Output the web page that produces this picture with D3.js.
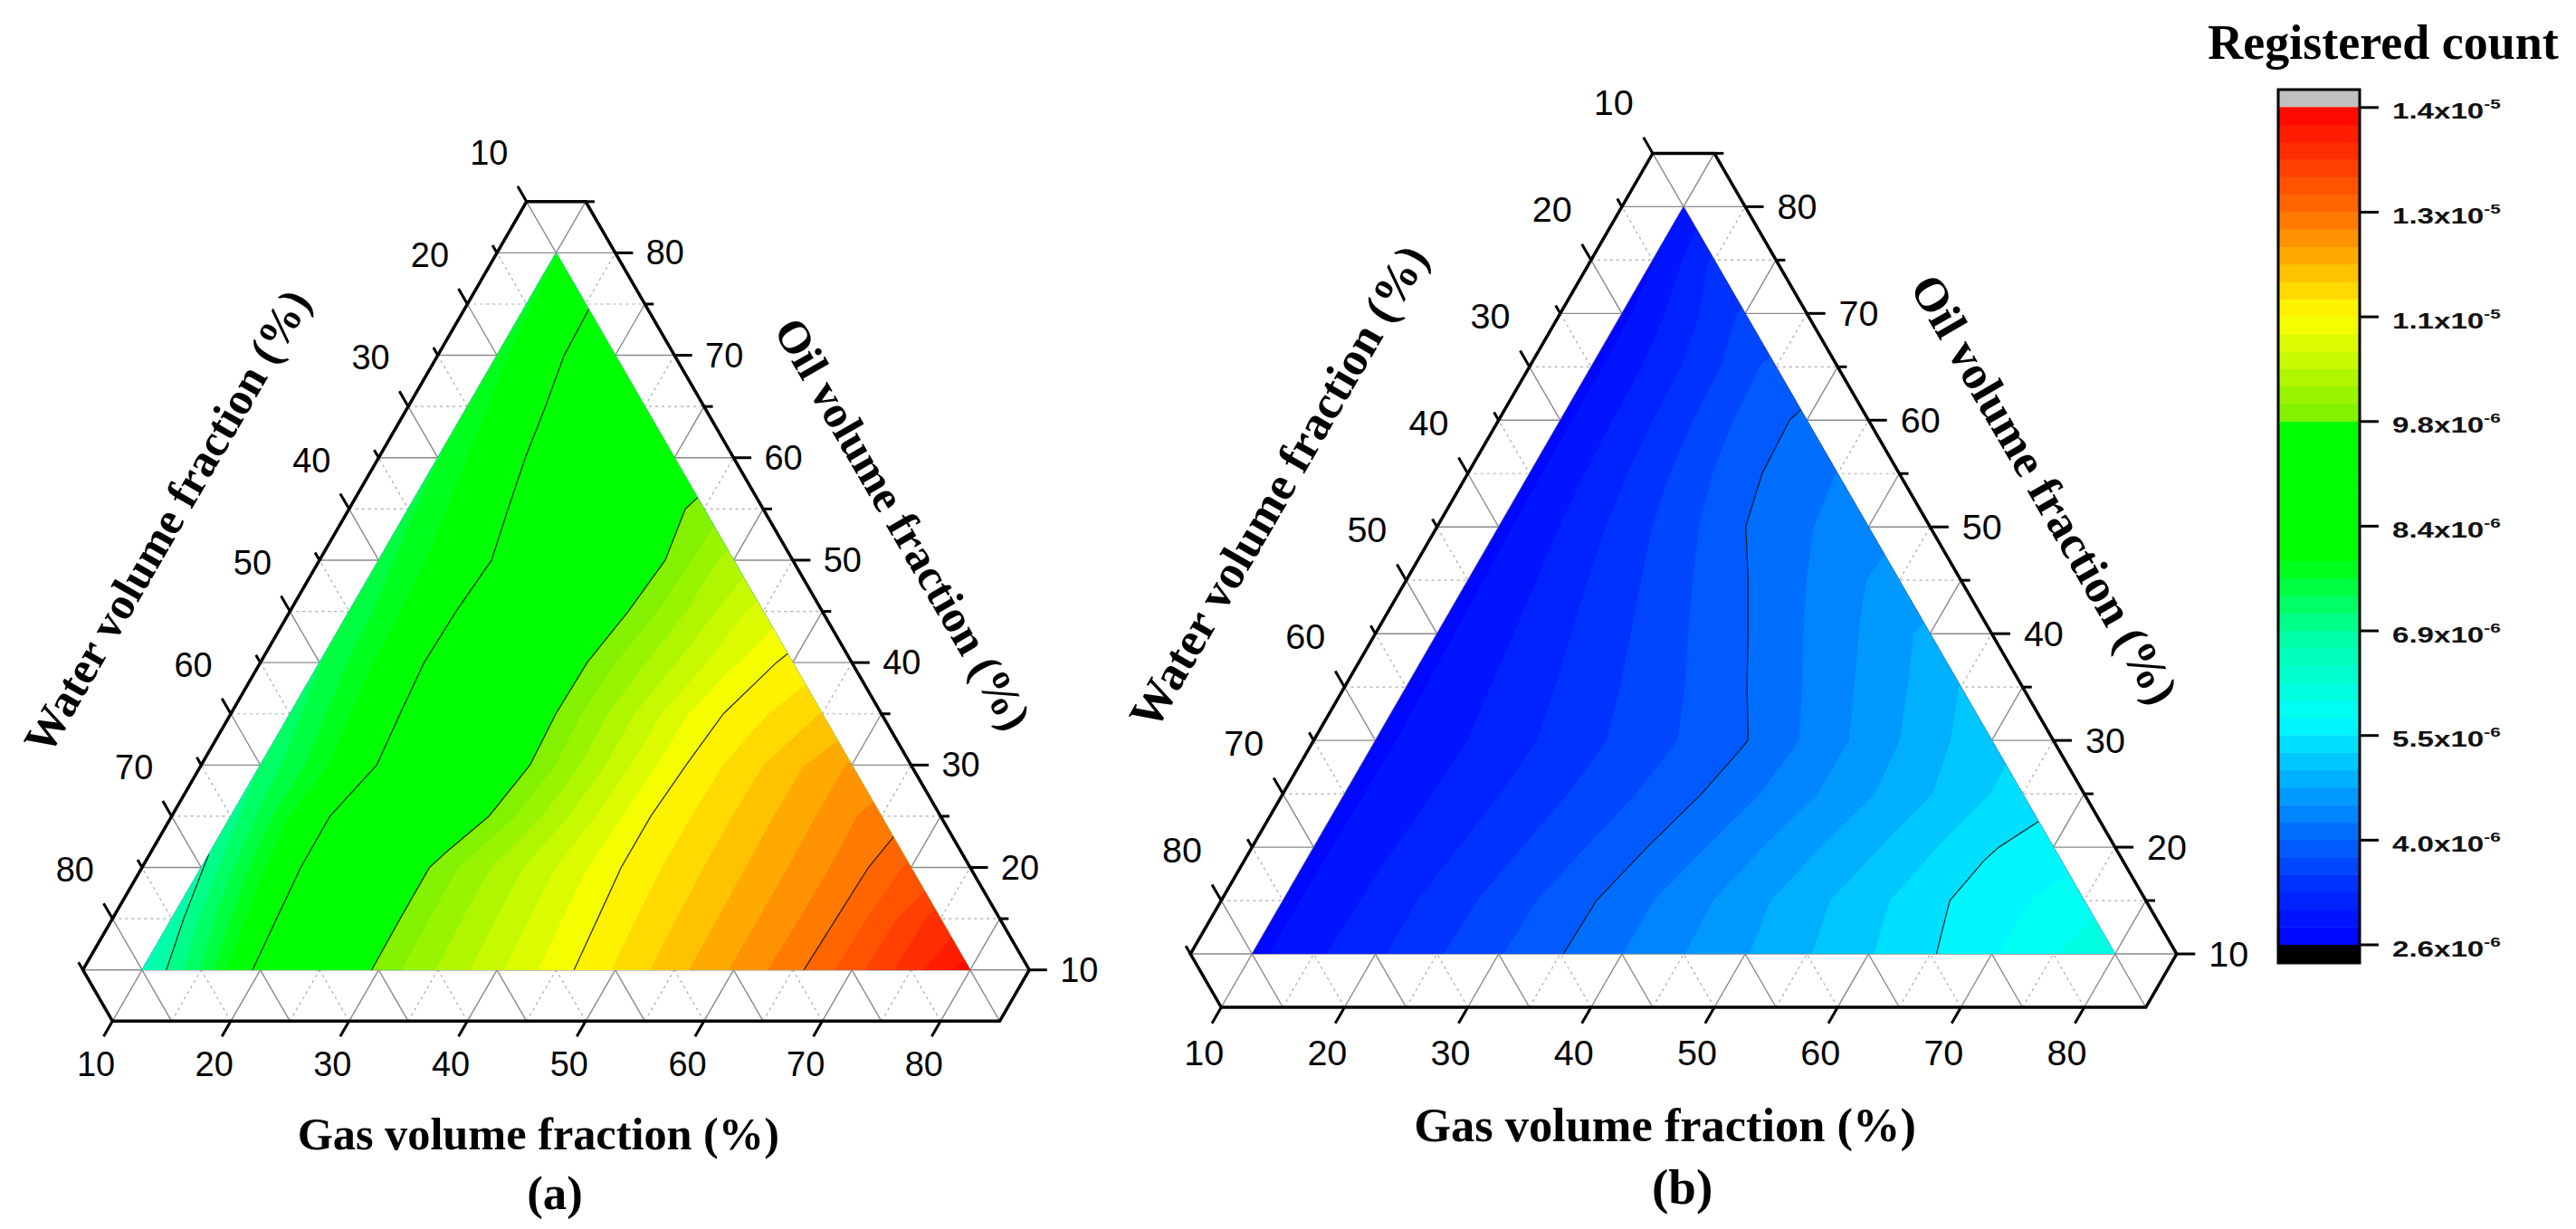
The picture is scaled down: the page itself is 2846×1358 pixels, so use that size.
<!DOCTYPE html>
<html>
<head>
<meta charset="utf-8">
<script src="https://cdn.jsdelivr.net/npm/d3@7"></script>
<style>
body { margin: 0; background: #fff; overflow: hidden; }
svg { display: block; }
.tick-label { font-family: "Liberation Sans", Arial, sans-serif; fill: #000; }
.title { font-family: "Liberation Serif", "Times New Roman", serif; font-weight: bold; fill: #000; }
.cb-label { font-family: "Liberation Sans", Arial, sans-serif; font-weight: bold; font-size: 24px; fill: #111; }
</style>
</head>
<body>
<svg id="chart" width="2846" height="1358"></svg>
<script>
// composition grid in %, water = 100 - gas - oil
var gasLevels = [10, 15, 20, 25, 30, 35, 40, 45, 50, 55, 60, 65, 70, 75, 80];
var oilLevels = [10, 15, 20, 25, 30, 35, 40, 45, 50, 55, 60, 65, 70, 75, 80];

// registered count (x10^-6), one row per oil level, columns gas = 10 .. 90-oil
var countA = [
  [6.60, 7.42, 8.54, 9.26, 9.92, 10.34, 10.76, 11.18, 11.56, 11.93, 12.29, 12.66, 13.12, 13.61, 14.10],
  [6.75, 7.67, 8.60, 9.29, 9.93, 10.36, 10.79, 11.22, 11.59, 11.94, 12.29, 12.64, 13.10, 13.60],
  [6.90, 7.83, 8.65, 9.31, 9.93, 10.37, 10.81, 11.26, 11.61, 11.95, 12.29, 12.63, 13.05],
  [7.05, 7.91, 8.62, 9.14, 9.65, 10.18, 10.72, 11.26, 11.61, 11.96, 12.30, 12.65],
  [7.20, 7.81, 8.41, 8.97, 9.53, 10.09, 10.66, 11.22, 11.60, 11.95, 12.30],
  [7.30, 7.89, 8.47, 9.02, 9.57, 10.12, 10.66, 11.19, 11.51, 11.79],
  [7.40, 7.96, 8.52, 9.05, 9.58, 10.08, 10.55, 11.02, 11.40],
  [7.45, 7.97, 8.49, 8.99, 9.49, 9.98, 10.47, 10.95],
  [7.55, 7.99, 8.43, 8.92, 9.42, 9.92, 10.47],
  [7.60, 8.06, 8.54, 9.02, 9.50, 10.00],
  [7.65, 8.16, 8.64, 9.10, 9.57],
  [7.72, 8.24, 8.71, 9.17],
  [7.80, 8.33, 8.77],
  [7.85, 8.37],
  [7.90]
];

var countB = [
  [2.75, 3.01, 3.26, 3.52, 3.77, 4.02, 4.27, 4.51, 4.74, 4.98, 5.22, 5.46, 5.70, 5.95, 6.20],
  [2.75, 3.00, 3.26, 3.51, 3.76, 4.01, 4.27, 4.52, 4.78, 5.03, 5.28, 5.53, 5.70, 5.90],
  [2.75, 2.99, 3.22, 3.46, 3.69, 3.93, 4.18, 4.44, 4.70, 4.95, 5.21, 5.47, 5.60],
  [2.75, 2.97, 3.19, 3.41, 3.63, 3.85, 4.08, 4.34, 4.60, 4.86, 5.12, 5.38],
  [2.75, 2.96, 3.17, 3.39, 3.60, 3.81, 4.02, 4.31, 4.61, 4.90, 5.20],
  [2.75, 2.98, 3.21, 3.44, 3.67, 3.90, 4.15, 4.44, 4.72, 5.01],
  [2.75, 3.00, 3.26, 3.51, 3.77, 4.02, 4.29, 4.56, 4.83],
  [2.75, 3.03, 3.32, 3.60, 3.89, 4.15, 4.40, 4.65],
  [2.75, 3.07, 3.39, 3.71, 4.03, 4.25, 4.46],
  [2.75, 3.10, 3.45, 3.80, 4.10, 4.28],
  [2.75, 3.12, 3.49, 3.86, 4.10],
  [2.75, 3.13, 3.51, 3.89],
  [2.75, 3.20, 3.60],
  [2.80, 3.35],
  [3.00]
];

// axis ticks
var majorTicks = [10, 20, 30, 40, 50, 60, 70, 80];
var minorTicks = [15, 25, 35, 45, 55, 65, 75, 85];

// colour scale (x10^-6)
var countMin = 2.58, countMax = 14.2, nLevels = 48;
var colorStops = [2.58, 3.3, 4.03, 4.8, 5.7, 6.9, 7.7, 8.0, 9.84, 9.85, 11.29, 12.75, 14.2];
var colorValues = ["#0000ff", "#0028ff", "#0064ff", "#00a8ff", "#00ffff", "#00ffa0", "#00ff28", "#00ff00",
                   "#00ff00", "#78f000", "#ffff00", "#ff6e00", "#ff0000"];
var cbMantissa = ["2.6", "4.0", "5.5", "6.9", "8.4", "9.8", "1.1", "1.3", "1.4"];
var cbExponent = ["-6", "-6", "-6", "-6", "-6", "-6", "-5", "-5", "-5"];

var svg = d3.select("#chart");
var color = d3.scaleLinear().domain(colorStops).range(colorValues);
var step = (countMax - countMin) / nLevels;
var levels = d3.range(nLevels).map(function(i) { return countMin + i * step; });
var majorLevels = d3.range(9).map(function(i) { return countMin + i * 6 * step; });

var panels = [
  {name: "(a)", x0: -39.1, y0: 1184.9, k: 13.07, values: countA},
  {name: "(b)", x0: 1179, y0: 1172, k: 13.62, values: countB}
];

// padded rectangular grid over gas 5..85, oil 5..85
function buildGrid(rows) {
  var n = 17;
  var grid = new Array(n * n).fill(null);
  rows.forEach(function(row, j) {
    row.forEach(function(v, i) { grid[(j + 1) * n + (i + 1)] = v; });
  });
  var missing = true;
  while (missing) {
    missing = false;
    var next = grid.slice();
    for (var y = 0; y < n; y++) {
      for (var x = 0; x < n; x++) {
        if (grid[y * n + x] !== null) continue;
        var s = 0, c = 0;
        [[1, 0], [-1, 0], [0, 1], [0, -1]].forEach(function(d) {
          var xx = x + d[0], yy = y + d[1];
          if (xx < 0 || yy < 0 || xx >= n || yy >= n) return;
          var v = grid[yy * n + xx];
          if (v !== null) { s += v; c++; }
        });
        if (c) next[y * n + x] = s / c; else missing = true;
      }
    }
    grid = next;
  }
  return grid;
}

panels.forEach(function(p, pi) {
  var k = p.k, h = k * Math.sqrt(3) / 2;
  var xScale = d3.scaleLinear().domain([0, 100]).range([p.x0, p.x0 + 100 * k]);
  var yScale = d3.scaleLinear().domain([0, 100]).range([p.y0, p.y0 - 100 * h]);
  function pt(gas, oil) { return [xScale(gas) + (xScale(oil) - xScale(0)) / 2, yScale(oil)]; }
  var line = d3.line().x(function(d) { return pt(d[0], d[1])[0]; }).y(function(d) { return pt(d[0], d[1])[1]; });

  var g = svg.append("g");

  // grid lines
  function gridSegs(v) {
    return [[[5, v], [95 - v, v]], [[v, 5], [v, 95 - v]], [[95 - v, 5], [5, 95 - v]]];
  }
  minorTicks.filter(function(v) { return v < 80; }).forEach(function(v) {
    g.selectAll(null).data(gridSegs(v)).enter().append("path")
      .attr("d", line).attr("fill", "none").attr("stroke", "#aaa")
      .attr("stroke-width", 1.2).attr("stroke-dasharray", "3,4");
  });
  majorTicks.forEach(function(v) {
    g.selectAll(null).data(gridSegs(v)).enter().append("path")
      .attr("d", line).attr("fill", "none").attr("stroke", "#8a8a8a").attr("stroke-width", 1.4);
  });

  // contour fill clipped to data triangle
  var clipId = "clip" + pi;
  svg.append("clipPath").attr("id", clipId).append("path")
    .attr("d", line([[10, 10], [80, 10], [10, 80]]) + "Z");
  var grid = buildGrid(p.values);
  var contours = d3.contours().size([17, 17]).thresholds(levels)(grid);
  var proj = d3.geoTransform({point: function(x, y) {
    var q = pt(5 + (x - 0.5) * 5, 5 + (y - 0.5) * 5);
    this.stream.point(q[0], q[1]);
  }});
  var path = d3.geoPath(proj);
  var cg = g.append("g").attr("clip-path", "url(#" + clipId + ")");
  cg.selectAll(".band").data(contours).enter().append("path")
    .attr("class", "band")
    .attr("d", path)
    .attr("fill", function(d) { return color(d.value + step / 2); })
    .attr("stroke", function(d) { return color(d.value + step / 2); })
    .attr("stroke-width", 0.6);
  var lineContours = d3.contours().size([17, 17]).thresholds(majorLevels.slice(1, 8))(grid);
  cg.selectAll(".iso").data(lineContours).enter().append("path")
    .attr("class", "iso")
    .attr("d", path)
    .attr("fill", "none")
    .attr("stroke", "#111")
    .attr("stroke-opacity", 0.85)
    .attr("stroke-width", 1.3);

  // frame
  g.append("path")
    .attr("d", line([[5, 10], [5, 85], [10, 85], [85, 10], [85, 5], [10, 5]]) + "Z")
    .attr("fill", "none").attr("stroke", "#000").attr("stroke-width", 3.5)
    .attr("stroke-linejoin", "miter");

  // ticks: gas (bottom), water (left), oil (right)
  var axes = [
    {base: function(v) { return pt(v, 5); }, dir: [-0.5, 0.866], minor: false},
    {base: function(v) { return pt(5, 95 - v); }, dir: [-0.5, -0.866], minor: true},
    {base: function(v) { return pt(95 - v, v); }, dir: [1, 0], minor: true}
  ];
  axes.forEach(function(ax) {
    var tickSet = majorTicks.map(function(v) { return {v: v, len: 1.5 * k}; });
    if (ax.minor) tickSet = tickSet.concat(minorTicks.map(function(v) { return {v: v, len: 0.75 * k}; }));
    g.selectAll(null).data(tickSet).enter().append("line")
      .attr("x1", function(d) { return ax.base(d.v)[0]; })
      .attr("y1", function(d) { return ax.base(d.v)[1]; })
      .attr("x2", function(d) { return ax.base(d.v)[0] + ax.dir[0] * d.len; })
      .attr("y2", function(d) { return ax.base(d.v)[1] + ax.dir[1] * d.len; })
      .attr("stroke", "#000").attr("stroke-width", 3);
  });

  var fs = 2.9 * k;
  g.selectAll(null).data(majorTicks).enter().append("text")
    .attr("class", "tick-label").style("font-size", fs + "px")
    .attr("text-anchor", "middle").attr("dominant-baseline", "central")
    .attr("x", function(v) { return pt(v, 5)[0] - 1.4 * k; })
    .attr("y", function(v) { return pt(v, 5)[1] + 3.67 * k; })
    .text(function(v) { return v; });
  g.selectAll(null).data(majorTicks).enter().append("text")
    .attr("class", "tick-label").style("font-size", fs + "px")
    .attr("text-anchor", "middle").attr("dominant-baseline", "central")
    .attr("x", function(v) { return pt(5, 95 - v)[0] - 3.17 * k; })
    .attr("y", function(v) { return pt(5, 95 - v)[1] - 4.12 * k; })
    .text(function(v) { return v; });
  g.selectAll(null).data(majorTicks).enter().append("text")
    .attr("class", "tick-label").style("font-size", fs + "px")
    .attr("text-anchor", "start").attr("dominant-baseline", "central")
    .attr("x", function(v) { return pt(95 - v, v)[0] + 2.6 * k; })
    .attr("y", function(v) { return pt(95 - v, v)[1]; })
    .text(function(v) { return v; });

  // axis titles
  var tfs = 3.85 * k;
  var bottomMid = pt(47.5, 5);
  g.append("text").attr("class", "title").style("font-size", tfs + "px")
    .attr("text-anchor", "middle")
    .attr("x", bottomMid[0] - 1.5 * k).attr("y", bottomMid[1] + 10.84 * k)
    .text("Gas volume fraction (%)");
  g.append("text").attr("class", "title").style("font-size", (tfs * 1.05) + "px")
    .attr("text-anchor", "middle")
    .attr("x", bottomMid[0] - 0.1 * k).attr("y", bottomMid[1] + 15.9 * k)
    .text(p.name);

  var lm = pt(5, 47.5);
  var wc = [lm[0] - 12.8 * k * 0.866 - 1.1 * k * 0.5, lm[1] - 12.8 * k * 0.5 + 1.1 * k * 0.866];
  g.append("text").attr("class", "title").style("font-size", tfs + "px")
    .attr("text-anchor", "middle").attr("dominant-baseline", "central")
    .attr("transform", "translate(" + wc[0] + "," + wc[1] + ") rotate(-60)")
    .text("Water volume fraction (%)");

  var rm = pt(47.5, 47.5);
  var oc = [rm[0] + 9.6 * k * 0.866 - 0.5 * k * 0.5, rm[1] - 9.6 * k * 0.5 - 0.5 * k * 0.866];
  g.append("text").attr("class", "title").style("font-size", tfs + "px")
    .attr("text-anchor", "middle").attr("dominant-baseline", "central")
    .attr("transform", "translate(" + oc[0] + "," + oc[1] + ") rotate(60)")
    .text("Oil volume fraction (%)");
});

// colour bar
var cbX = 2517, cbW = 90;
var cbScale = d3.scaleLinear().domain([countMin, countMax]).range([1043.5, 118.3]);
var cb = svg.append("g");
cb.append("rect").attr("x", cbX).attr("y", 99).attr("width", cbW).attr("height", cbScale(countMax) - 99)
  .attr("fill", "#c0c0c0");
cb.append("rect").attr("x", cbX).attr("y", cbScale(countMin)).attr("width", cbW)
  .attr("height", 1064 - cbScale(countMin)).attr("fill", "#000");
cb.selectAll(".cb-band").data(levels).enter().append("rect")
  .attr("class", "cb-band")
  .attr("x", cbX).attr("width", cbW)
  .attr("y", function(d) { return cbScale(d + step); })
  .attr("height", function(d) { return cbScale(d) - cbScale(d + step) + 0.5; })
  .attr("fill", function(d) { return color(d + step / 2); });
cb.append("rect").attr("x", cbX).attr("y", 99).attr("width", cbW).attr("height", 965)
  .attr("fill", "none").attr("stroke", "#000").attr("stroke-width", 3);

var cbAxis = cb.append("g").attr("transform", "translate(" + (cbX + cbW) + ",0)")
  .call(d3.axisRight(cbScale).tickValues(majorLevels).tickSize(21).tickFormat(""));
cbAxis.select(".domain").remove();
cbAxis.selectAll("line").attr("stroke", "#000").attr("stroke-width", 3);

cb.selectAll(".cb-label").data(majorLevels).enter().append("text")
  .attr("class", "cb-label")
  .attr("transform", function(d) { return "translate(2643," + (cbScale(d) + 13) + ") scale(1.38,1)"; })
  .each(function(d, i) {
    var t = d3.select(this);
    t.append("tspan").text(cbMantissa[i] + "x10");
    t.append("tspan").attr("dy", -11).style("font-size", "15px").text(cbExponent[i]);
  });

svg.append("text").attr("class", "title").style("font-size", "54px")
  .attr("text-anchor", "middle").attr("x", 2633).attr("y", 65)
  .text("Registered count");
</script>
</body>
</html>
